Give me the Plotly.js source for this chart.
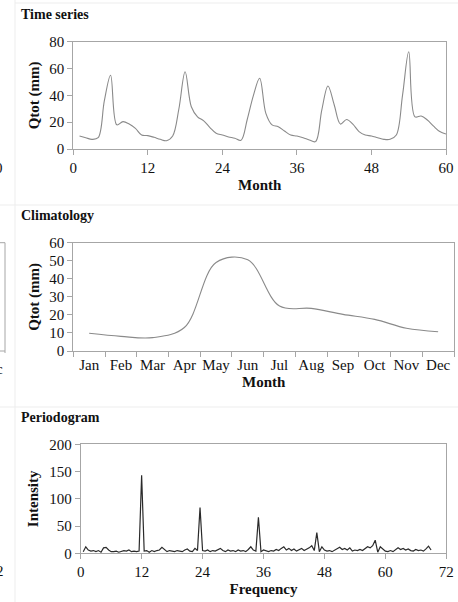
<!DOCTYPE html>
<html>
<head>
<meta charset="utf-8">
<script src="https://cdn.plot.ly/plotly-3.0.1.min.js"></script>
<style>
html,body{margin:0;padding:0;background:#fff;}
#chart{width:458px;height:602px;}
</style>
</head>
<body>
<div id="chart"></div>
<script>
// ---- Data ----
const tsMonths = [1,2,3,4,5,6,7,8,9,10,11,12,13,14,15,16,17,18,19,20,21,22,23,24,25,26,27,28,29,30,
  31,32,33,34,35,36,37,38,39,40,41,42,43,44,45,46,47,48,49,50,51,52,53,54,55,56,57,58,59,60];
const tsQtot = [9.7,8.4,7.2,8.4,36,55,18,20.4,18.6,15.4,10.4,10,8.7,7.2,6.2,9.7,30,57.6,31.5,24,
  21,16,11.7,10.4,9,8,6.5,22,40,52.7,26.6,18,16.6,13.4,10.4,9.7,8.4,6.7,5.5,29,
  47,33,18.6,22,18.5,13,10.4,9.7,8.4,7.2,7.2,10.4,40,72.5,24,24.6,21.6,17,13,11.2];

const climMonths = ["Jan","Feb","Mar","Apr","May","Jun","Jul","Aug","Sep","Oct","Nov","Dec"];
const climQtot = [9.8,8.1,7.4,13,49,50.5,24.9,23.6,20.3,17.5,12.6,10.7];

// periodogram intensities, frequency 0.5 .. 69 in steps of 0.5
const pgStart = 0.5, pgStep = 0.5;
const pgIntensity = [3,12,6,4,5,3,5,2,10,11,6,3,3,4,2,4,5,4,6,3,4,3,4,143,
  4,5,2,5,3,5,6,11,7,3,5,4,3,5,4,3,6,8,4,3,9,5,84,
  5,4,6,3,5,4,7,9,5,3,6,4,5,3,6,4,5,3,7,12,6,4,66,
  3,6,4,3,5,4,7,5,9,12,6,9,5,8,4,6,9,5,7,10,14,5,38,
  3,12,6,4,5,3,6,8,11,7,9,6,10,4,6,5,7,5,8,12,10,14,24,
  2,12,8,4,3,5,3,6,10,7,9,6,8,5,4,7,5,6,4,8,13,6];

const W = 458, H = 602;
const px = x => x / W;
const py = y => 1 - y / H;

const FONT = "Liberation Serif";
const tickFont = {family: FONT, size: 15, color: "#111"};
const titleFont = {family: FONT, size: 15, color: "#111"};
const FRAME = "#a6a6a6";

function axisBase(extra) {
  return Object.assign({
    showline: true, linecolor: FRAME, linewidth: 1, mirror: true,
    ticks: "outside", ticklen: 5, tickcolor: FRAME, tickwidth: 1,
    showgrid: false, zeroline: false, tickfont: tickFont, tickangle: 0, fixedrange: true
  }, extra);
}

const traces = [
  {x: tsMonths, y: tsQtot, xaxis: "x", yaxis: "y", type: "scatter", mode: "lines",
   line: {color: "#8a8a8a", width: 1.1, shape: "spline", smoothing: 1}, hoverinfo: "skip"},
  {x: climMonths, y: climQtot, xaxis: "x2", yaxis: "y2", type: "scatter", mode: "lines",
   line: {color: "#8a8a8a", width: 1.1, shape: "spline", smoothing: 1}, hoverinfo: "skip"},
  {x0: pgStart, dx: pgStep, y: pgIntensity, xaxis: "x3", yaxis: "y3", type: "scatter", mode: "lines",
   line: {color: "#2a2a2a", width: 1.2}, hoverinfo: "skip"}
];

const layout = {
  width: W, height: H,
  margin: {l: 0, r: 0, t: 0, b: 0},
  paper_bgcolor: "#fff", plot_bgcolor: "#fff",
  showlegend: false,
  font: {family: FONT},
  xaxis: axisBase({domain: [px(73.3), px(446)], anchor: "y", range: [0, 60], tick0: 0, dtick: 12,
    title: {text: "<b>Month</b>", font: titleFont, standoff: 4}}),
  yaxis: axisBase({domain: [py(149), py(41.7)], anchor: "x", range: [0, 80], tick0: 0, dtick: 20,
    title: {text: "<b>Qtot (mm)</b>", font: titleFont, standoff: 6}}),
  xaxis2: axisBase({domain: [px(73.3), px(454)], anchor: "y2", type: "category", range: [-0.5, 11.5],
    tickson: "boundaries", title: {text: "<b>Month</b>", font: titleFont, standoff: 4}}),
  yaxis2: axisBase({domain: [py(351), py(242.7)], anchor: "x2", range: [0, 60], tick0: 0, dtick: 10,
    title: {text: "<b>Qtot (mm)</b>", font: titleFont, standoff: 6}}),
  xaxis3: axisBase({domain: [px(80.7), px(446.3)], anchor: "y3", range: [0, 72], tick0: 0, dtick: 12,
    title: {text: "<b>Frequency</b>", font: titleFont, standoff: 4}}),
  yaxis3: axisBase({domain: [py(553.3), py(444.3)], anchor: "x3", range: [0, 200], tick0: 0, dtick: 50,
    title: {text: "<b>Intensity</b>", font: titleFont, standoff: 6}}),
  annotations: [
    {text: "<b>Time series</b>", xref: "paper", yref: "paper", x: px(19), y: py(14), xanchor: "left", yanchor: "middle", showarrow: false, font: {family: FONT, size: 14, color: "#111"}},
    {text: "<b>Climatology</b>", xref: "paper", yref: "paper", x: px(19), y: py(215), xanchor: "left", yanchor: "middle", showarrow: false, font: {family: FONT, size: 14, color: "#111"}},
    {text: "<b>Periodogram</b>", xref: "paper", yref: "paper", x: px(19), y: py(417), xanchor: "left", yanchor: "middle", showarrow: false, font: {family: FONT, size: 14, color: "#111"}},
    {text: "0", xref: "paper", yref: "paper", x: px(5), y: py(168), xanchor: "right", yanchor: "middle", showarrow: false, font: tickFont},
    {text: "c", xref: "paper", yref: "paper", x: px(5), y: py(369), xanchor: "right", yanchor: "middle", showarrow: false, font: tickFont},
    {text: "2", xref: "paper", yref: "paper", x: px(6), y: py(571), xanchor: "right", yanchor: "middle", showarrow: false, font: tickFont}
  ],
  shapes: [
    {type: "line", xref: "paper", yref: "paper", x0: px(15), x1: px(15), y0: 0, y1: 1, line: {color: "#ededed", width: 1}},
    {type: "line", xref: "paper", yref: "paper", x0: px(15), x1: 1, y0: py(3), y1: py(3), line: {color: "#ededed", width: 1}},
    {type: "line", xref: "paper", yref: "paper", x0: 0, x1: 1, y0: py(205), y1: py(205), line: {color: "#ededed", width: 1}},
    {type: "line", xref: "paper", yref: "paper", x0: 0, x1: 1, y0: py(407), y1: py(407), line: {color: "#ededed", width: 1}},
    {type: "line", xref: "paper", yref: "paper", x0: 0, x1: px(5), y0: py(242.7), y1: py(242.7), line: {color: FRAME, width: 1}},
    {type: "line", xref: "paper", yref: "paper", x0: px(5), x1: px(5), y0: py(242.7), y1: py(353), line: {color: FRAME, width: 1}},
    {type: "line", xref: "paper", yref: "paper", x0: 0, x1: px(5), y0: py(351), y1: py(351), line: {color: FRAME, width: 1}}
  ]
};

Plotly.newPlot("chart", traces, layout, {staticPlot: true, displayModeBar: false});
</script>
</body>
</html>
